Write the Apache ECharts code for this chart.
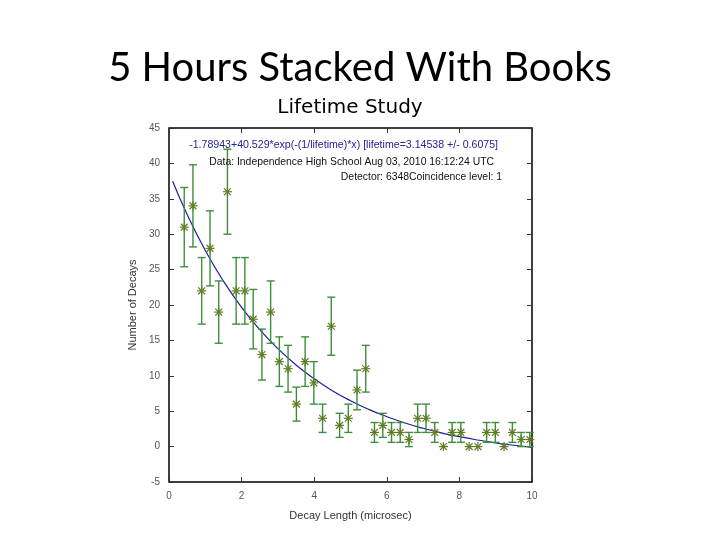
<!DOCTYPE html>
<html>
<head>
<meta charset="utf-8">
<script src="https://cdn.jsdelivr.net/npm/echarts@6/dist/echarts.min.js"></script>
<style>
html,body{margin:0;padding:0;background:#fff;}
#c{width:720px;height:540px;}
</style>
</head>
<body>
<div id="c"></div>
<script>
// Decay length bin centres (microsec)
const decayX = [0.42,0.66,0.90,1.13,1.37,1.61,1.85,2.09,2.32,2.56,2.80,3.04,3.28,3.51,3.75,3.99,4.23,4.47,4.70,4.94,5.18,5.42,5.66,5.89,6.13,6.37,6.61,6.85,7.08,7.32,7.56,7.80,8.04,8.27,8.51,8.75,8.99,9.23,9.46,9.70,9.94];
// Number of decays per bin
const decayCounts = [31,34,22,28,19,36,22,22,18,13,19,12,11,6,12,9,4,17,3,4,8,11,2,3,2,2,1,4,4,2,0,2,2,0,0,2,2,0,2,1,1];
// Error bar half-lengths
const decayErrors = [5.6,5.8,4.7,5.3,4.4,6.0,4.7,4.7,4.2,3.6,4.4,3.5,3.3,2.4,3.5,3.0,2.0,4.1,1.7,2.0,2.8,3.3,1.4,1.7,1.4,1.4,1.0,2.0,2.0,1.4,0,1.4,1.4,0,0,1.4,1.4,0,1.4,1.0,1.0];
// Fitted curve
const fitX = [0.1,0.5,1,1.5,2,2.5,3,3.5,4,4.5,5,5.5,6,6.5,7,7.5,8,8.5,9,9.5,10];
const fitY = [37.47,32.78,27.70,23.37,19.67,16.52,13.83,11.53,9.57,7.90,6.48,5.26,4.23,3.34,2.59,1.95,1.40,0.93,0.53,0.19,-0.10];
const xTicks = [0,2,4,6,8,10];
const yTicks = [-5,0,5,10,15,20,25,30,35,40,45];

const pointsData = decayX.map((x,i)=>[x, decayCounts[i], decayErrors[i]]);
const fitData = fitX.map((x,i)=>[x, fitY[i]]);

const chart = echarts.init(document.getElementById('c'), null, {renderer:'canvas'});
const barColor = '#3d8f3d';
const starColor = '#5e7d22';

const tickLabelStyle = {fontFamily:'Liberation Sans', fontSize:10, color:'#555'};

chart.setOption({
  animation:false,
  backgroundColor:'#fff',
  title:[
    {text:'5 Hours Stacked With Books', left:'center', top:43,
     textStyle:{fontFamily:'Lato', fontSize:40, fontWeight:'normal', color:'#000'}},
    {text:'Lifetime Study', left:345, top:93, textAlign:'center',
     textStyle:{fontFamily:'DejaVu Sans', fontSize:20, fontWeight:'normal', color:'#000'}}
  ],
  grid:{left:169, top:128, width:363, height:354, show:true, borderColor:'#000', borderWidth:1.5, backgroundColor:'transparent'},
  xAxis:[
    {type:'value', min:0, max:10, interval:2, position:'bottom',
     name:'Decay Length (microsec)', nameLocation:'middle', nameGap:28,
     nameTextStyle:{fontFamily:'Liberation Sans', fontSize:11, color:'#333'},
     axisLine:{show:false, onZero:false}, splitLine:{show:false},
     axisTick:{show:true, inside:true, length:5, lineStyle:{color:'#333'}},
     axisLabel:Object.assign({margin:9}, tickLabelStyle)},
    {type:'value', min:0, max:10, interval:2, position:'top',
     axisLine:{show:false, onZero:false}, splitLine:{show:false}, axisLabel:{show:false},
     axisTick:{show:true, inside:true, length:5, lineStyle:{color:'#333'}}}
  ],
  yAxis:[
    {type:'value', min:-5, max:45, interval:5, position:'left',
     name:'Number of Decays', nameLocation:'middle', nameGap:30, nameRotate:90,
     nameTextStyle:{fontFamily:'Liberation Sans', fontSize:11, color:'#333'},
     axisLine:{show:false, onZero:false}, splitLine:{show:false},
     axisTick:{show:true, inside:true, length:5, lineStyle:{color:'#333'}},
     axisLabel:Object.assign({margin:9}, tickLabelStyle)},
    {type:'value', min:-5, max:45, interval:5, position:'right',
     axisLine:{show:false, onZero:false}, splitLine:{show:false}, axisLabel:{show:false},
     axisTick:{show:true, inside:true, length:5, lineStyle:{color:'#333'}}}
  ],
  series:[
    {type:'line', data:fitData, smooth:true, showSymbol:false, symbol:'none',
     lineStyle:{color:'#1f1fa0', width:1.2}, z:3, clip:true},
    {type:'custom', data:pointsData, z:4,
     renderItem:function(params, api){
       const x = api.value(0), y = api.value(1), e = api.value(2);
       const p = api.coord([x,y]);
       const children = [];
       const ls = {stroke:barColor, lineWidth:1.4};
       if (e > 0){
         const t = api.coord([x, y+e]), b = api.coord([x, y-e]);
         children.push({type:'line', shape:{x1:p[0],y1:t[1],x2:p[0],y2:b[1]}, style:ls});
         children.push({type:'line', shape:{x1:p[0]-4,y1:t[1],x2:p[0]+4,y2:t[1]}, style:ls});
         children.push({type:'line', shape:{x1:p[0]-4,y1:b[1],x2:p[0]+4,y2:b[1]}, style:ls});
       }
       const ss = {stroke:starColor, lineWidth:1.2};
       const r = 4.5, d = 3.4;
       children.push({type:'line', shape:{x1:p[0]-r,y1:p[1],x2:p[0]+r,y2:p[1]}, style:ss});
       children.push({type:'line', shape:{x1:p[0],y1:p[1]-r,x2:p[0],y2:p[1]+r}, style:ss});
       children.push({type:'line', shape:{x1:p[0]-d,y1:p[1]-d,x2:p[0]+d,y2:p[1]+d}, style:ss});
       children.push({type:'line', shape:{x1:p[0]-d,y1:p[1]+d,x2:p[0]+d,y2:p[1]-d}, style:ss});
       return {type:'group', children:children};
     }}
  ],
  graphic:[
    {type:'text', right:222, top:140, z:10,
     style:{text:'-1.78943+40.529*exp(-(1/lifetime)*x) [lifetime=3.14538 +/- 0.6075]',
            font:'10.6px "Liberation Sans"', fill:'#22229a'}},
    {type:'text', right:226, top:157, z:10,
     style:{text:'Data: Independence High School Aug 03, 2010 16:12:24 UTC',
            font:'10.4px "Liberation Sans"', fill:'#111'}},
    {type:'text', right:218, top:172, z:10,
     style:{text:'Detector: 6348Coincidence level: 1',
            font:'10.4px "Liberation Sans"', fill:'#111'}}
  ]
});
</script>
</body>
</html>
